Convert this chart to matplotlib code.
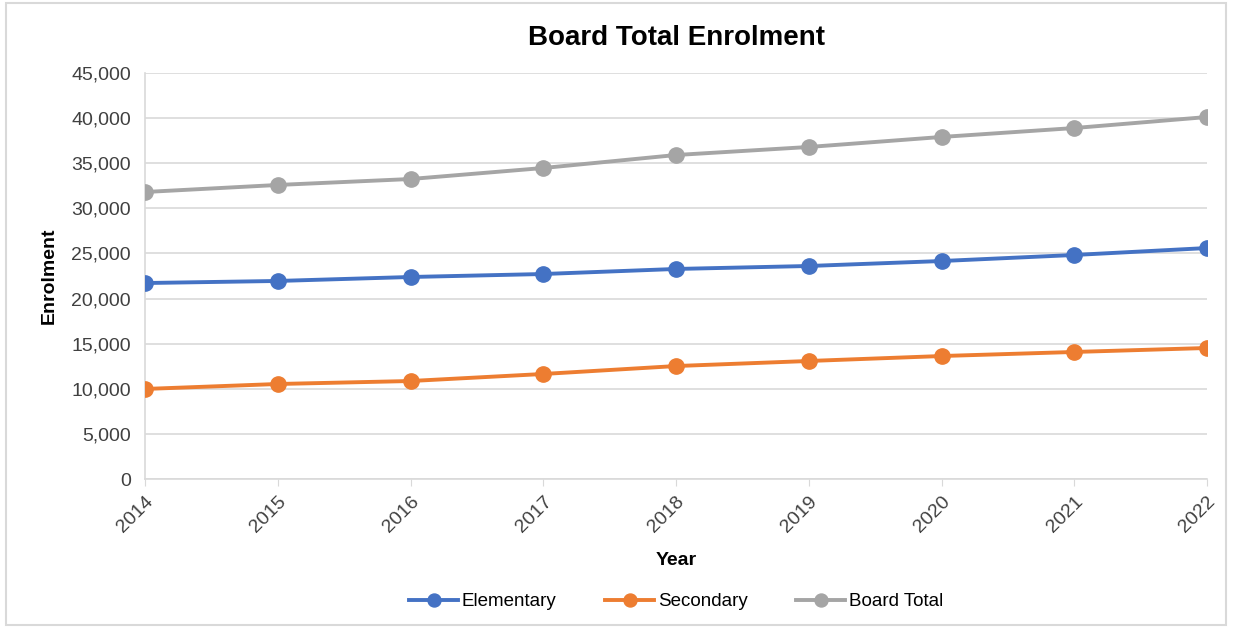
import matplotlib
matplotlib.use("Agg")
import matplotlib.pyplot as plt
from matplotlib.ticker import FuncFormatter
from matplotlib.patches import Rectangle

# Data
years = [2014, 2015, 2016, 2017, 2018, 2019, 2020, 2021, 2022]
elementary = [21720, 21950, 22390, 22720, 23280, 23610, 24160, 24830, 25600]
secondary = [9980, 10530, 10860, 11640, 12520, 13080, 13630, 14080, 14520]
board_total = [31810, 32590, 33250, 34470, 35910, 36800, 37910, 38900, 40120]

plt.rcParams['font.family'] = ['Liberation Sans', 'DejaVu Sans']

fig = plt.figure(figsize=(12.33, 6.28), dpi=100)
ax = fig.add_axes([145/1233, 1-479/628, (1207-145)/1233, (479-73)/628])

# Chart border
fig.patches.append(Rectangle((6/1233, 3/628), 1220/1233, 622/628, transform=fig.transFigure,
                             fill=False, edgecolor='#d9d9d9', linewidth=1.5))

ax.plot(years, elementary, color='#4472C4', lw=2.8, marker='o', ms=11, label='Elementary', zorder=3)
ax.plot(years, secondary, color='#ED7D31', lw=2.8, marker='o', ms=11, label='Secondary', zorder=3)
ax.plot(years, board_total, color='#A5A5A5', lw=2.8, marker='o', ms=11, label='Board Total', zorder=3)

ax.set_xlim(2014, 2022)
ax.set_ylim(0, 45000)
ax.set_yticks(range(0, 45001, 5000))
ax.yaxis.set_major_formatter(FuncFormatter(lambda v, p: f"{int(v):,}"))
ax.set_xticks(years)
ax.set_xticklabels([str(y) for y in years], rotation=45, ha='right', rotation_mode='anchor')

ax.grid(axis='y', color='#d9d9d9', lw=1.2)
ax.set_axisbelow(True)
for s in ['top', 'right']:
    ax.spines[s].set_visible(False)
ax.spines['left'].set_color('#d9d9d9')
ax.spines['bottom'].set_color('#d9d9d9')
ax.spines['left'].set_linewidth(1.2)
ax.spines['bottom'].set_linewidth(1.2)
ax.tick_params(axis='y', length=0, labelsize=14, colors='#404040', pad=10)
ax.tick_params(axis='x', length=5, color='#d9d9d9', labelsize=14, colors='#404040', pad=5)

ax.set_title('Board Total Enrolment', fontsize=20, fontweight='bold', pad=20)
ax.set_xlabel('Year', fontsize=14, fontweight='bold', labelpad=12)
ax.set_ylabel('Enrolment', fontsize=14, fontweight='bold', labelpad=10)

leg = ax.legend(loc='upper center', bbox_to_anchor=(0.5, -0.24), ncol=3, frameon=False,
                fontsize=13.5, handlelength=2.6, columnspacing=2.6, handletextpad=0.2,
                markerscale=0.85)

fig.savefig('out.png', dpi=100)
